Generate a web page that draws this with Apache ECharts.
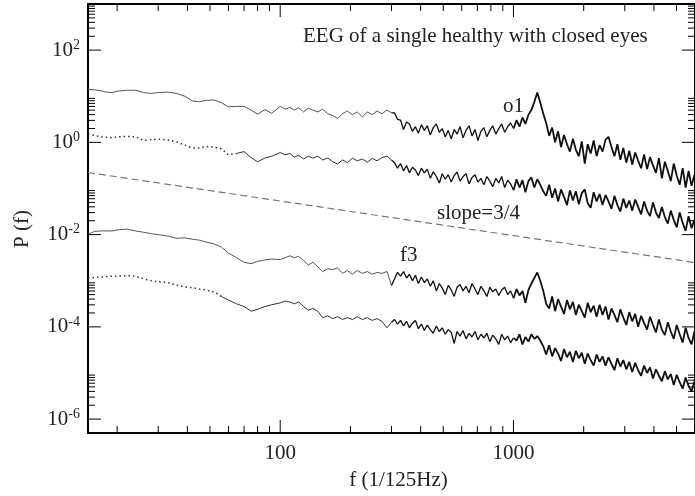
<!DOCTYPE html>
<html lang="en">
<head>
    <meta charset="UTF-8">
    <title>EEG power spectrum</title>
    <script type="text/javascript" src="https://cdn.jsdelivr.net/npm/echarts@6/dist/echarts.min.js"></script>
    <style>
        body { margin: 0; background: #fff; }
    </style>
</head>
<body>
<div id="main" style="width: 695px;height:496px;"></div>
<script type="text/javascript">
// frequency bins (1/125 Hz) shared by all four spectra
var freqs = [15,16,17,18,19,20,22,24,26,28,30,33,36,39,42,45,48,52,56,60,65,70,75,80,86,92,100,
  105,110,115,120,126,132,138,145,152,160,168,176,185,194,204,214,225,236,248,260,273,287,300,
  309,318,328,338,348,358,369,380,391,403,415,427,440,453,467,481,495,510,525,541,
  557,573,590,608,626,645,664,684,704,725,747,769,792,815,840,865,890,917,944,972,
  1001,1031,1061,1093,1125,1159,1193,1229,1265,1303,1342,1381,1422,1465,1508,1553,1599,1647,1696,1746,
  1798,1851,1906,1963,2021,2081,2143,2207,2272,2340,2409,2481,2555,2631,2709,2789,2872,2957,3045,3136,
  3229,3325,3423,3525,3630,3738,3849,3963,4081,4202,4327,4456,4588,4724,4865,5009,5158,5311,5469,5631,
  5799,5971];

// log10 P(f)
var o1Exp = [1.15,1.14,1.12,1.09,1.08,1.11,1.13,1.13,1.08,1.06,1.08,1.09,1.06,1.00,0.90,0.88,0.91,0.92,0.86,0.77,0.78,0.78,0.70,0.61,0.71,0.63,0.78,
  0.72,0.76,0.70,0.75,0.66,0.74,0.70,0.66,0.72,0.62,0.58,0.52,0.62,0.68,0.60,0.66,0.55,0.66,0.60,0.68,0.62,0.70,0.64,
  0.64,0.50,0.48,0.28,0.44,0.40,0.24,0.34,0.20,0.38,0.26,0.36,0.16,0.32,0.40,0.22,0.30,0.12,0.26,0.08,
  0.28,0.18,0.34,0.10,0.26,0.36,0.14,0.28,0.04,0.24,0.32,0.12,0.26,0.36,0.18,0.30,0.40,0.22,0.34,0.42,
  0.30,0.48,0.34,0.54,0.40,0.60,0.70,0.88,1.08,0.86,0.62,0.42,0.14,0.32,0.00,0.24,-0.10,0.16,-0.04,-0.20,
  0.08,-0.16,-0.30,0.02,-0.46,-0.04,-0.24,0.04,-0.30,-0.06,-0.20,0.06,0.12,-0.10,-0.30,-0.04,-0.38,-0.12,-0.44,-0.18,
  -0.48,-0.22,-0.40,-0.56,-0.26,-0.58,-0.32,-0.50,-0.66,-0.34,-0.78,-0.42,-0.62,-0.84,-0.46,-0.72,-0.92,-0.56,-0.98,-0.62,
  -0.94,-0.70];

var o1DotExp = [0.18,0.15,0.12,0.11,0.10,0.12,0.13,0.12,0.04,0.06,0.07,0.05,0.01,-0.06,-0.12,-0.12,-0.09,-0.10,-0.14,-0.27,-0.24,-0.20,-0.33,-0.42,-0.34,-0.30,-0.22,
  -0.27,-0.24,-0.32,-0.28,-0.36,-0.30,-0.34,-0.30,-0.38,-0.34,-0.42,-0.47,-0.38,-0.44,-0.34,-0.40,-0.36,-0.43,-0.35,-0.40,-0.33,-0.30,-0.38,
  -0.44,-0.56,-0.46,-0.62,-0.50,-0.66,-0.54,-0.60,-0.72,-0.56,-0.66,-0.58,-0.78,-0.64,-0.74,-0.88,-0.68,-0.80,-0.70,-0.86,
  -0.72,-0.64,-0.84,-0.74,-0.68,-0.90,-0.76,-0.70,-0.86,-0.78,-0.92,-0.74,-0.84,-0.96,-0.78,-0.88,-0.74,-0.98,-0.82,-0.90,
  -1.04,-0.80,-0.98,-0.82,-1.08,-0.84,-0.76,-0.98,-0.80,-0.92,-1.06,-1.16,-0.92,-1.20,-1.00,-1.28,-1.02,-1.18,-1.36,-1.04,
  -1.26,-1.06,-1.34,-1.10,-1.02,-1.32,-1.42,-1.08,-1.28,-1.12,-1.36,-1.14,-1.28,-1.44,-1.16,-1.36,-1.50,-1.22,-1.42,-1.26,
  -1.48,-1.24,-1.40,-1.56,-1.28,-1.48,-1.60,-1.30,-1.52,-1.64,-1.40,-1.62,-1.76,-1.48,-1.68,-1.84,-1.52,-1.74,-1.92,-1.60,
  -1.86,-1.68];

var f3Exp = [-1.99,-1.93,-1.92,-1.92,-1.92,-1.90,-1.88,-1.92,-1.95,-1.98,-2.00,-2.03,-2.08,-2.07,-2.10,-2.12,-2.16,-2.20,-2.27,-2.40,-2.50,-2.60,-2.63,-2.58,-2.55,-2.53,-2.54,
  -2.50,-2.46,-2.50,-2.47,-2.56,-2.66,-2.60,-2.70,-2.80,-2.74,-2.76,-2.72,-2.84,-2.78,-2.86,-2.78,-2.84,-2.80,-2.86,-2.82,-2.84,-2.80,-3.10,
  -2.96,-2.82,-2.90,-2.80,-2.94,-2.86,-3.00,-2.88,-3.06,-2.92,-3.04,-2.96,-3.12,-3.00,-3.22,-3.06,-3.16,-3.30,-3.10,-3.20,
  -3.34,-3.14,-3.08,-3.22,-3.12,-3.26,-3.06,-3.18,-3.30,-3.12,-3.22,-3.34,-3.14,-3.24,-3.18,-3.32,-3.20,-3.14,-3.30,-3.22,
  -3.38,-3.18,-3.32,-3.22,-3.48,-3.20,-3.06,-2.94,-2.82,-3.00,-3.22,-3.50,-3.60,-3.34,-3.66,-3.40,-3.56,-3.72,-3.42,-3.62,
  -3.46,-3.74,-3.52,-3.66,-3.80,-3.48,-3.68,-3.54,-3.78,-3.52,-3.74,-3.56,-3.84,-3.60,-3.74,-3.90,-3.62,-3.80,-3.96,-3.68,
  -3.88,-3.72,-4.00,-3.76,-3.92,-4.06,-3.78,-3.96,-4.12,-3.84,-4.06,-4.18,-3.90,-4.10,-4.26,-3.96,-4.16,-4.34,-4.02,-4.24,
  -4.38,-4.10];

var f3DotExp = [-2.94,-2.93,-2.92,-2.91,-2.90,-2.90,-2.89,-2.90,-2.96,-3.00,-3.02,-3.04,-3.10,-3.13,-3.15,-3.18,-3.20,-3.24,-3.34,-3.42,-3.50,-3.56,-3.66,-3.62,-3.56,-3.52,-3.48,
  -3.44,-3.46,-3.50,-3.46,-3.56,-3.64,-3.60,-3.66,-3.80,-3.76,-3.82,-3.78,-3.84,-3.80,-3.84,-3.78,-3.84,-3.80,-3.86,-3.82,-3.88,-4.02,-3.90,
  -3.84,-3.94,-3.86,-3.98,-3.88,-4.02,-3.92,-3.86,-4.04,-3.94,-4.08,-3.96,-4.06,-4.14,-3.98,-4.10,-4.02,-4.16,-4.06,-4.12,
  -4.36,-4.10,-4.20,-4.08,-4.26,-4.14,-4.22,-4.10,-4.28,-4.16,-4.24,-4.14,-4.32,-4.18,-4.26,-4.38,-4.16,-4.28,-4.20,-4.34,
  -4.24,-4.30,-4.16,-4.38,-4.22,-4.32,-4.16,-4.26,-4.20,-4.30,-4.42,-4.60,-4.40,-4.64,-4.46,-4.58,-4.74,-4.48,-4.66,-4.54,
  -4.76,-4.52,-4.68,-4.56,-4.80,-4.58,-4.72,-4.84,-4.60,-4.76,-4.64,-4.84,-4.66,-4.80,-4.94,-4.68,-4.86,-4.72,-4.92,-4.76,
  -4.98,-4.78,-4.94,-5.06,-4.84,-5.00,-4.88,-5.12,-4.92,-5.06,-5.18,-4.96,-5.14,-5.02,-5.26,-5.04,-5.20,-5.34,-5.10,-5.28,
  -5.40,-5.18];

// reference line with slope 3/4
var slopeF = [15, 6000];
var slopeP = [0.222, 0.00248];

// tick values
var majorX = [100, 1000];
var minorX = [20,30,40,50,60,70,80,90,200,300,400,500,600,700,800,900,2000,3000,4000,5000];
var majorY = [1e-6, 1e-4, 1e-2, 1, 100];
var minorY = [2e-6,3e-6,4e-6,5e-6,6e-6,7e-6,8e-6,9e-6,
  2e-4,3e-4,4e-4,5e-4,6e-4,7e-4,8e-4,9e-4,
  0.02,0.03,0.04,0.05,0.06,0.07,0.08,0.09,
  2,3,4,5,6,7,8,9,
  200,300,400,500,600,700,800,900];

var serif = '"Liberation Serif", "Times New Roman", serif';
var textColor = '#222';

function pts(exps) {
  return freqs.map(function (f, i) { return [f, Math.pow(10, exps[i])]; });
}

function seg(data, lo, hi) {
  return data.filter(function (p) { return p[0] >= lo && p[0] <= hi; });
}

// draws ticks on both opposite frame edges, pointing inward
function tickSeries(vals, dir, len) {
  return {
    type: 'custom',
    silent: true,
    z: 3,
    data: vals.map(function (v) { return dir === 'x' ? [v, 1] : [100, v]; }),
    renderItem: function (params, api) {
      var cs = params.coordSys;
      var p = api.coord([api.value(0), api.value(1)]);
      var st = { stroke: '#000', lineWidth: 1 };
      if (dir === 'x') {
        return { type: 'group', children: [
          { type: 'line', shape: { x1: p[0], y1: cs.y + cs.height, x2: p[0], y2: cs.y + cs.height - len }, style: st },
          { type: 'line', shape: { x1: p[0], y1: cs.y, x2: p[0], y2: cs.y + len }, style: st }
        ]};
      }
      return { type: 'group', children: [
        { type: 'line', shape: { x1: cs.x, y1: p[1], x2: cs.x + len, y2: p[1] }, style: st },
        { type: 'line', shape: { x1: cs.x + cs.width, y1: p[1], x2: cs.x + cs.width - len, y2: p[1] }, style: st }
      ]};
    }
  };
}

function lineSeries(data, color, type, width) {
  return {
    type: 'line',
    data: data,
    showSymbol: false,
    symbol: 'none',
    silent: true,
    z: 2,
    lineStyle: { color: color, width: width, type: type }
  };
}

// each spectrum: sparse low end, thin mid part, dense noisy high end
function spectrum(data, dotTo) {
  var out = [];
  if (dotTo) {
    out.push(lineSeries(seg(data, 15, dotTo), '#333', [1.5, 3], 1.5));
    out.push(lineSeries(seg(data, dotTo, 300), '#333', 'solid', 1));
  } else {
    out.push(lineSeries(seg(data, 15, 300), '#555', 'solid', 1));
  }
  out.push(lineSeries(seg(data, 300, 1001), '#111', 'solid', 1.3));
  out.push(lineSeries(seg(data, 1001, 6000), '#111', 'solid', 1.8));
  return out;
}

var o1 = pts(o1Exp), o1Dot = pts(o1DotExp), f3 = pts(f3Exp), f3Dot = pts(f3DotExp);

var series = [].concat(
  spectrum(o1, 0),
  spectrum(o1Dot, 65),
  [lineSeries(slopeF.map(function (f, i) { return [f, slopeP[i]]; }), '#777', [7, 4], 1.2)],
  spectrum(f3, 0),
  spectrum(f3Dot, 56),
  [tickSeries(majorX, 'x', 13), tickSeries(minorX, 'x', 7), tickSeries(majorY, 'y', 13), tickSeries(minorY, 'y', 7)]
);

var myChart = echarts.init(document.getElementById('main'));
myChart.setOption({
  animation: false,
  backgroundColor: '#fff',
  grid: { left: 88, right: -7, top: 4, bottom: 62, show: true, borderColor: '#000', borderWidth: 2 },
  xAxis: {
    type: 'log', logBase: 10, min: 15, max: 6000,
    axisLine: { show: false }, axisTick: { show: false }, splitLine: { show: false },
    axisLabel: {
      showMinLabel: false, showMaxLabel: false, margin: 10,
      fontFamily: serif, fontSize: 21, color: textColor,
      formatter: function (v) {
        var e = Math.log10(v);
        return Math.abs(e - Math.round(e)) < 1e-6 ? String(Math.round(v)) : '';
      }
    },
    name: 'f (1/125Hz)', nameLocation: 'middle', nameGap: 37,
    nameTextStyle: { fontFamily: serif, fontSize: 21, color: textColor, padding: [0, 0, 0, 14] }
  },
  yAxis: {
    type: 'log', logBase: 10, min: 5e-7, max: 1000,
    axisLine: { show: false }, axisTick: { show: false }, splitLine: { show: false },
    axisLabel: {
      showMinLabel: false, showMaxLabel: false, margin: 8,
      formatter: function (v) {
        var e = Math.log10(v), r = Math.round(e);
        if (Math.abs(e - r) > 1e-6 || r % 2 !== 0) return '';
        return '{b|10}{s|' + r + '}';
      },
      rich: {
        b: { fontFamily: serif, fontSize: 21, color: textColor },
        s: { fontFamily: serif, fontSize: 14, color: textColor, padding: [0, 0, 10, 0] }
      }
    }
  },
  graphic: [
    { type: 'text', x: 22, y: 229, rotation: Math.PI / 2, style: { text: 'P (f)', font: '21px ' + serif, fill: textColor, align: 'center', verticalAlign: 'middle' } },
    { type: 'text', x: 303, y: 36, style: { text: 'EEG of a single healthy with closed eyes', font: '21px ' + serif, fill: textColor, verticalAlign: 'middle' } },
    { type: 'text', x: 503, y: 106, style: { text: 'o1', font: '21px ' + serif, fill: textColor, verticalAlign: 'middle' } },
    { type: 'text', x: 437, y: 213, style: { text: 'slope=3/4', font: '21px ' + serif, fill: textColor, verticalAlign: 'middle' } },
    { type: 'text', x: 400, y: 255, style: { text: 'f3', font: '21px ' + serif, fill: textColor, verticalAlign: 'middle' } }
  ],
  series: series
});
</script>
</body>
</html>
